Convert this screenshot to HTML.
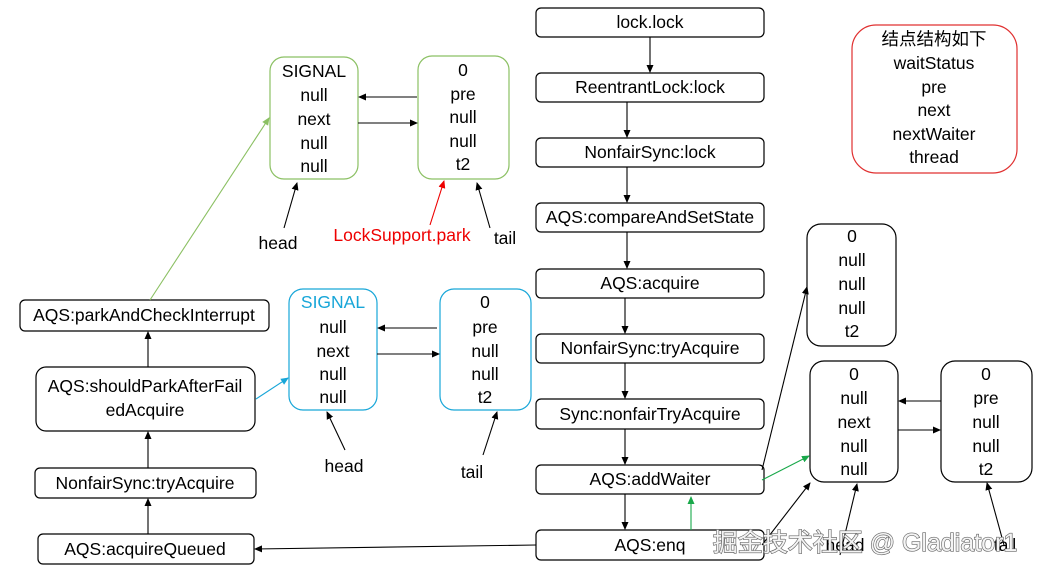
<!DOCTYPE html>
<html><head><meta charset="utf-8"><style>
html,body{margin:0;padding:0;background:#fff;}
svg{display:block;}
text{font-family:"Liberation Sans","Noto Sans CJK SC",sans-serif;font-size:17.5px;fill:#000;text-anchor:middle;dominant-baseline:central;}
</style></head><body>
<svg width="1039" height="575" viewBox="0 0 1039 575" xmlns="http://www.w3.org/2000/svg">
<defs>
<marker id="ak" markerWidth="8" markerHeight="8" refX="7" refY="4" orient="auto" markerUnits="userSpaceOnUse"><path d="M0,0.5 L8,4 L0,7.5z" fill="#000"/></marker>
<marker id="ag" markerWidth="8" markerHeight="8" refX="7" refY="4" orient="auto" markerUnits="userSpaceOnUse"><path d="M0,0.5 L8,4 L0,7.5z" fill="#19a84a"/></marker>
<marker id="agl" markerWidth="8" markerHeight="8" refX="7" refY="4" orient="auto" markerUnits="userSpaceOnUse"><path d="M0,0.5 L8,4 L0,7.5z" fill="#8bc063"/></marker>
<marker id="ab" markerWidth="8" markerHeight="8" refX="7" refY="4" orient="auto" markerUnits="userSpaceOnUse"><path d="M0,0.5 L8,4 L0,7.5z" fill="#17a6d8"/></marker>
<marker id="ar" markerWidth="8" markerHeight="8" refX="7" refY="4" orient="auto" markerUnits="userSpaceOnUse"><path d="M0,0.5 L8,4 L0,7.5z" fill="#e00"/></marker>
</defs>
<g fill="#fff" stroke="#000" stroke-width="1.2">
<rect x="536" y="8" width="228" height="29" rx="5"/>
<rect x="536" y="73" width="228" height="29" rx="5"/>
<rect x="536" y="138" width="228" height="29" rx="5"/>
<rect x="536" y="203" width="228" height="29" rx="5"/>
<rect x="536" y="269" width="228" height="29" rx="5"/>
<rect x="536" y="334" width="228" height="29" rx="5"/>
<rect x="536" y="399" width="228" height="30" rx="5"/>
<rect x="536" y="465" width="228" height="29" rx="5"/>
<rect x="536" y="530" width="228" height="30" rx="5"/>
<rect x="20" y="300" width="249" height="31" rx="5"/>
<rect x="36" y="367" width="219" height="64" rx="10"/>
<rect x="35" y="468" width="221" height="30" rx="5"/>
<rect x="38" y="534" width="216" height="30" rx="5"/>
<rect x="807" y="224" width="89" height="122" rx="14"/>
<rect x="810" y="361" width="88" height="121" rx="14"/>
<rect x="941" y="361" width="91" height="121" rx="14"/>
</g>
<rect x="852" y="25" width="165" height="148" rx="24" fill="#fff" stroke="#e03030" stroke-width="1.2"/>
<rect x="270" y="57" width="88" height="122" rx="14" fill="#fff" stroke="#8bc063" stroke-width="1.2"/>
<rect x="418" y="56" width="91" height="123" rx="14" fill="#fff" stroke="#8bc063" stroke-width="1.2"/>
<rect x="289" y="289" width="88" height="121" rx="14" fill="#fff" stroke="#17a6d8" stroke-width="1.2"/>
<rect x="440" y="289" width="91" height="121" rx="14" fill="#fff" stroke="#17a6d8" stroke-width="1.2"/>
<g stroke="#000" stroke-width="1.1" fill="none" marker-end="url(#ak)">
<line x1="650" y1="37" x2="650" y2="72"/>
<line x1="627" y1="102" x2="627" y2="137"/>
<line x1="627" y1="167" x2="627" y2="202"/>
<line x1="627" y1="232" x2="627" y2="268"/>
<line x1="625" y1="298" x2="625" y2="333"/>
<line x1="625" y1="363" x2="625" y2="398"/>
<line x1="625" y1="429" x2="625" y2="464"/>
<line x1="625" y1="494" x2="625" y2="529"/>
<line x1="148" y1="367" x2="148" y2="332"/>
<line x1="148" y1="468" x2="148" y2="432"/>
<line x1="148" y1="534" x2="148" y2="499"/>
<line x1="536" y1="545" x2="255" y2="549"/>
<line x1="417" y1="97" x2="359" y2="97"/>
<line x1="358" y1="123" x2="417" y2="123"/>
<line x1="437" y1="328" x2="378" y2="328"/>
<line x1="377" y1="354" x2="439" y2="354"/>
<line x1="941" y1="401" x2="899" y2="401"/>
<line x1="898" y1="430" x2="940" y2="430"/>
<line x1="762" y1="470" x2="807" y2="287"/>
<line x1="762" y1="545" x2="810" y2="483"/>
<line x1="840" y1="555" x2="857" y2="484"/>
<line x1="1004" y1="545" x2="987" y2="483"/>
<line x1="284" y1="228" x2="297" y2="183"/>
<line x1="490" y1="228" x2="477" y2="183"/>
<line x1="345" y1="450" x2="327" y2="412"/>
<line x1="483" y1="455" x2="497" y2="412"/>
</g>
<line x1="430" y1="225" x2="444" y2="181" stroke="#e00" stroke-width="1.1" marker-end="url(#ar)"/>
<line x1="150" y1="300" x2="269" y2="118" stroke="#8bc063" stroke-width="1.1" marker-end="url(#agl)"/>
<line x1="256" y1="399" x2="288" y2="378" stroke="#17a6d8" stroke-width="1.1" marker-end="url(#ab)"/>
<line x1="762" y1="480" x2="809" y2="456" stroke="#19a84a" stroke-width="1.1" marker-end="url(#ag)"/>
<line x1="691" y1="530" x2="691" y2="497" stroke="#19a84a" stroke-width="1.1" marker-end="url(#ag)"/>
<text x="650" y="22">lock.lock</text>
<text x="650" y="87">ReentrantLock:lock</text>
<text x="650" y="152">NonfairSync:lock</text>
<text x="650" y="217">AQS:compareAndSetState</text>
<text x="650" y="283">AQS:acquire</text>
<text x="650" y="348">NonfairSync:tryAcquire</text>
<text x="650" y="414">Sync:nonfairTryAcquire</text>
<text x="650" y="479">AQS:addWaiter</text>
<text x="650" y="545">AQS:enq</text>
<text x="144" y="315">AQS:parkAndCheckInterrupt</text>
<text x="145" y="386">AQS:shouldParkAfterFail</text>
<text x="145" y="410">edAcquire</text>
<text x="145" y="483">NonfairSync:tryAcquire</text>
<text x="145" y="549">AQS:acquireQueued</text>
<g>
<text x="934" y="39">结点结构如下</text>
<text x="934" y="63">waitStatus</text>
<text x="934" y="87">pre</text>
<text x="934" y="110">next</text>
<text x="934" y="134">nextWaiter</text>
<text x="934" y="157">thread</text>
</g>
<text x="314" y="71">SIGNAL</text><text x="314" y="95">null</text><text x="314" y="119">next</text><text x="314" y="143">null</text><text x="314" y="166">null</text>
<text x="463" y="70">0</text><text x="463" y="94">pre</text><text x="463" y="117">null</text><text x="463" y="141">null</text><text x="463" y="164">t2</text>
<text x="333" y="302" style="fill:#17a6d8">SIGNAL</text><text x="333" y="327">null</text><text x="333" y="351">next</text><text x="333" y="374">null</text><text x="333" y="397">null</text>
<text x="485" y="302">0</text><text x="485" y="327">pre</text><text x="485" y="351">null</text><text x="485" y="374">null</text><text x="485" y="397">t2</text>
<text x="852" y="236">0</text><text x="852" y="260">null</text><text x="852" y="284">null</text><text x="852" y="308">null</text><text x="852" y="331">t2</text>
<text x="854" y="374">0</text><text x="854" y="398">null</text><text x="854" y="422">next</text><text x="854" y="446">null</text><text x="854" y="469">null</text>
<text x="986" y="374">0</text><text x="986" y="398">pre</text><text x="986" y="422">null</text><text x="986" y="446">null</text><text x="986" y="469">t2</text>
<text x="278" y="243">head</text>
<text x="402" y="235" style="fill:#e00">LockSupport.park</text>
<text x="505" y="238">tail</text>
<text x="344" y="466">head</text>
<text x="472" y="472">tail</text>
<text x="845" y="545">head</text>
<text x="1005" y="545">tail</text>
<text x="865" y="543" style="font-size:25px;fill:#f4f4f4;stroke:#666;stroke-width:1.3;paint-order:stroke">掘金技术社区 @ Gladiator1</text>
</svg>
</body></html>
